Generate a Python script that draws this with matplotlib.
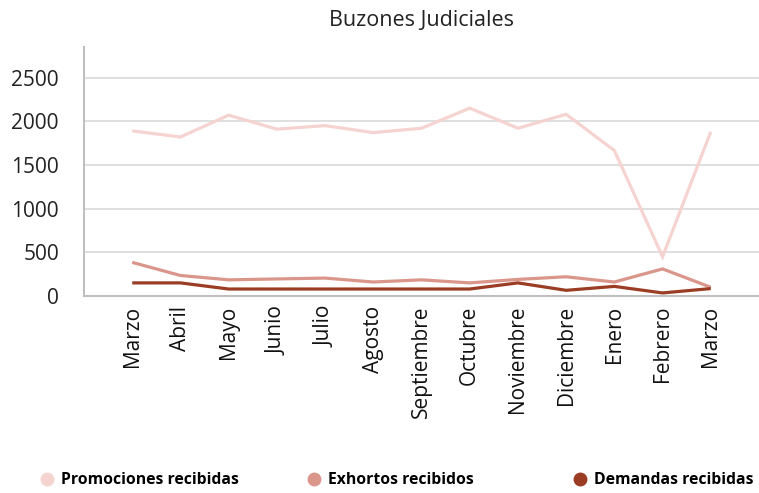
import matplotlib
matplotlib.use("Agg")
import matplotlib.pyplot as plt
from matplotlib.lines import Line2D

months = ["Marzo", "Abril", "Mayo", "Junio", "Julio", "Agosto", "Septiembre",
          "Octubre", "Noviembre", "Diciembre", "Enero", "Febrero", "Marzo"]
promociones = [1890, 1820, 2070, 1910, 1950, 1870, 1920, 2150, 1920, 2080, 1665, 450, 1880]
exhortos = [385, 235, 185, 195, 205, 160, 185, 150, 190, 220, 160, 310, 100]
demandas = [150, 150, 80, 80, 80, 80, 80, 80, 150, 65, 110, 35, 85]
series_names = ["Promociones recibidas", "Exhortos recibidos", "Demandas recibidas"]
colors = ["#F5D3D0", "#DA968B", "#9B3D24"]
yticks = [0, 500, 1000, 1500, 2000, 2500]

plt.rcParams['font.family'] = ['Open Sans', 'DejaVu Sans']

fig = plt.figure(figsize=(7.59, 4.93), dpi=100)
ax = fig.add_axes([84/759, 1-296/493, 1-84/759, (296-47)/493])

x = list(range(len(months)))
for vals, c in zip([promociones, exhortos, demandas], colors):
    ax.plot(x, vals, color=c, lw=2.3, solid_capstyle='butt', solid_joinstyle='miter')

ax.set_xlim(-1, 13)
ax.set_ylim(0, 2850)
ax.set_yticks(yticks)
ax.set_yticklabels([str(v) for v in yticks], fontsize=15, color='#222222')
ax.set_xticks(x)
ax.set_xticklabels(months, rotation=90, fontsize=15, color='#111111')
ax.tick_params(axis='y', length=0, pad=18)
ax.tick_params(axis='x', length=0, pad=7)
ax.grid(axis='y', color='#D9D9D9', lw=1.2)
ax.set_axisbelow(True)
for s in ['top', 'right']:
    ax.spines[s].set_visible(False)
ax.spines['left'].set_color('#BFBFBF')
ax.spines['bottom'].set_color('#BFBFBF')
ax.spines['left'].set_linewidth(1.5)
ax.spines['bottom'].set_linewidth(1.5)

ax.set_title("Buzones Judiciales", fontsize=15.5, color='#222222', pad=15)

legend_left_px = [39, 306, 572]
for name, c, lx in zip(series_names, colors, legend_left_px):
    h = Line2D([], [], marker='o', ls='', color=c, markersize=9)
    leg = fig.legend([h], [name], loc='center left', bbox_to_anchor=(lx/759, 1-480/493),
                     frameon=False, borderpad=0, borderaxespad=0,
                     handlelength=1.0, handletextpad=0.4,
                     prop={'weight': 'bold', 'size': 11.3})

fig.savefig("out.png", dpi=100)
